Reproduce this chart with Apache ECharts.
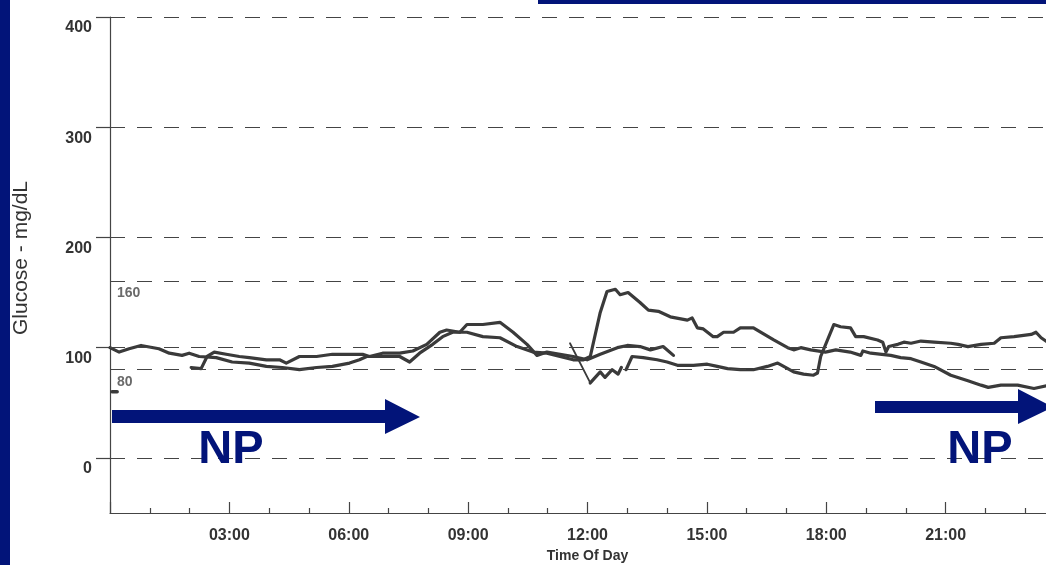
<!DOCTYPE html>
<html>
<head>
<meta charset="utf-8">
<title>Glucose - Time Of Day</title>
<script src="https://cdn.jsdelivr.net/npm/echarts@6/dist/echarts.min.js"></script>
<style>
  html, body { margin: 0; padding: 0; background: #fff; }
  #chart { width: 1046px; height: 565px; }
</style>
</head>
<body>
<div id="chart"></div>
<script>
// [hour of day, mg/dL]
const trace1 = [[0,100],[0.23,96],[0.48,99],[0.78,102],[1.23,99],[1.49,95],[1.81,93],[1.99,95],[2.24,92],[2.67,91],[3.07,87],[3.5,86],[3.93,83],[4.33,82],[4.76,80],[5.19,82],[5.59,83],[6.02,86],[6.27,89],[6.45,92],[6.85,92],[7.28,92],[7.53,87],[7.78,95],[8.11,103],[8.36,110],[8.61,114],[8.97,114],[9.37,110],[9.8,109],[10.23,101],[10.63,96],[10.98,95],[11.31,92],[11.64,89],[11.9,89],[12.07,92],[12.32,132],[12.49,151],[12.7,153],[12.82,148],[13.02,150],[13.32,141],[13.53,134],[13.78,133],[14.08,128],[14.51,125],[14.63,127],[14.76,118],[14.91,117],[15.16,110],[15.26,110],[15.42,114],[15.67,114],[15.84,118],[16.17,118],[16.35,114],[16.68,107],[17.03,100],[17.18,98],[17.36,100],[17.61,98],[17.98,96],[18.24,98],[18.6,96],[18.87,93],[18.92,97],[19.12,95],[19.62,93],[19.87,91],[20.13,90],[20.38,87],[20.71,83],[21.13,75],[21.56,70],[21.89,66],[22.07,64],[22.39,66],[22.81,66],[23.22,63],[23.6,66]];
const trace2 = [[2.04,82],[2.29,81],[2.44,92],[2.62,96],[2.92,94],[3.25,92],[3.5,91],[3.93,89],[4.26,89],[4.43,86],[4.76,92],[5.19,92],[5.59,94],[6.35,94],[6.52,92],[6.85,95],[7.28,95],[7.61,97],[7.96,103],[8.29,114],[8.46,116],[8.79,114],[8.97,121],[9.37,121],[9.8,123],[10.13,114],[10.48,103],[10.73,93],[10.98,96],[11.31,94],[11.64,92],[11.99,89],[12.32,94],[12.75,100],[13.0,102],[13.32,101],[13.58,98],[13.9,101],[14.16,93]];
const trace3Start = [[11.56,104],[12.07,68]];
const trace3 = [[12.07,68],[12.32,78],[12.44,73],[12.62,80],[12.77,76],[12.85,82],[12.91,'-'],[12.97,80],[13.12,92],[13.4,91],[13.75,89],[14.0,87],[14.26,84],[14.66,84],[15.01,85],[15.26,83],[15.52,81],[15.84,80],[16.17,80],[16.52,83],[16.78,86],[16.93,83],[17.18,78],[17.43,76],[17.68,75],[17.78,77],[17.86,92],[18.19,121],[18.36,119],[18.61,118],[18.74,110],[18.94,110],[19.29,107],[19.42,105],[19.5,96],[19.57,101],[19.8,103],[19.95,105],[20.13,104],[20.38,106],[20.71,105],[21.13,104],[21.31,103],[21.56,101],[21.89,103],[22.22,104],[22.39,109],[22.72,110],[23.15,112],[23.27,114],[23.4,109],[23.6,104]];
const legendDash = [[0.05,60],[0.18,60]];

const refLines = [0, 80, 100, 160, 200, 300, 400];
const refLabels = { 80: '80', 160: '160' };
const yTickValues = [0, 100, 200, 300, 400];
const npNote = 'NP';

const ink = '#3a3a3a';
const navy = '#021479';
const font = '"Liberation Sans", Arial, sans-serif';

const chart = echarts.init(document.getElementById('chart'), null, { renderer: 'canvas' });

function traceSeries(data, width) {
    return {
        type: 'line',
        data: data,
        showSymbol: false,
        silent: true,
        connectNulls: false,
        lineStyle: { color: ink, width: width, cap: 'round', join: 'round' },
        z: 3
    };
}

const gridSeries = traceSeries(trace1, 3.2);
gridSeries.markLine = {
    silent: true,
    symbol: ['none', 'none'],
    animation: false,
    lineStyle: { color: '#444', width: 1.2, type: [15, 12] },
    label: { show: false },
    data: refLines.map(v => ({
        yAxis: v,
        label: refLabels[v] ? {
            show: true,
            position: 'insideStartBottom',
            formatter: refLabels[v],
            color: '#6a6a6a',
            fontSize: 14,
            fontWeight: 'bold',
            fontFamily: font,
            distance: [7, 5]
        } : { show: false }
    }))
};

const option = {
    backgroundColor: '#fff',
    animation: false,
    grid: { left: 110, top: 17, width: 955, height: 496, outerBoundsMode: 'none', containLabel: false },
    xAxis: {
        type: 'value',
        min: 0,
        max: 24,
        interval: 3,
        name: 'Time Of Day',
        nameLocation: 'middle',
        nameGap: 34,
        nameTextStyle: { color: '#333', fontSize: 14, fontWeight: 'bold', fontFamily: font },
        axisLine: { show: true, onZero: false, lineStyle: { color: '#444', width: 1.2 } },
        axisTick: { show: true, inside: true, length: 11, lineStyle: { color: '#444', width: 1.2 } },
        minorTick: { show: true, splitNumber: 3, length: 5, lineStyle: { color: '#444', width: 1.2 } },
        splitLine: { show: false },
        axisLabel: {
            margin: 15,
            color: '#333',
            fontSize: 16,
            fontWeight: 'bold',
            fontFamily: font,
            formatter: v => (v > 0 && v < 24) ? String(v).padStart(2, '0') + ':00' : ''
        }
    },
    yAxis: {
        type: 'value',
        min: -50,
        max: 400,
        name: 'Glucose - mg/dL',
        nameLocation: 'middle',
        nameGap: 78,
        nameTextStyle: { color: '#333', fontSize: 21, fontFamily: font, padding: [0, 0, 0, 14] },
        axisLine: { show: true, onZero: false, lineStyle: { color: '#444', width: 1.2 } },
        axisTick: { show: true, length: 14, customValues: yTickValues, lineStyle: { color: '#444', width: 1.2 } },
        splitLine: { show: false },
        axisLabel: {
            customValues: yTickValues,
            margin: 18,
            verticalAlign: 'top',
            padding: [3, 0, 0, 0],
            color: '#333',
            fontSize: 16,
            fontWeight: 'bold',
            fontFamily: font
        }
    },
    series: [
        gridSeries,
        traceSeries(trace2, 3.2),
        traceSeries(trace3Start, 1.8),
        traceSeries(trace3, 3.2),
        traceSeries(legendDash, 3.5)
    ],
    graphic: [
        { type: 'rect', shape: { x: 0, y: 0, width: 10, height: 565 }, style: { fill: navy }, z: 10 },
        { type: 'rect', shape: { x: 538, y: 0, width: 508, height: 4 }, style: { fill: navy }, z: 10 },
        { type: 'polygon', shape: { points: [[112, 410], [385, 410], [385, 399], [420, 417], [385, 434], [385, 423], [112, 423]] }, style: { fill: navy }, z: 10 },
        { type: 'polygon', shape: { points: [[875, 401], [1018, 401], [1018, 389], [1053, 407], [1018, 424], [1018, 413], [875, 413]] }, style: { fill: navy }, z: 10 },
        { type: 'text', x: 231, y: 450, style: { text: npNote, fill: navy, font: 'bold 47px ' + font, align: 'center', verticalAlign: 'middle' }, z: 10 },
        { type: 'text', x: 980, y: 450, style: { text: npNote, fill: navy, font: 'bold 47px ' + font, align: 'center', verticalAlign: 'middle' }, z: 10 }
    ]
};

chart.setOption(option);
</script>
</body>
</html>
